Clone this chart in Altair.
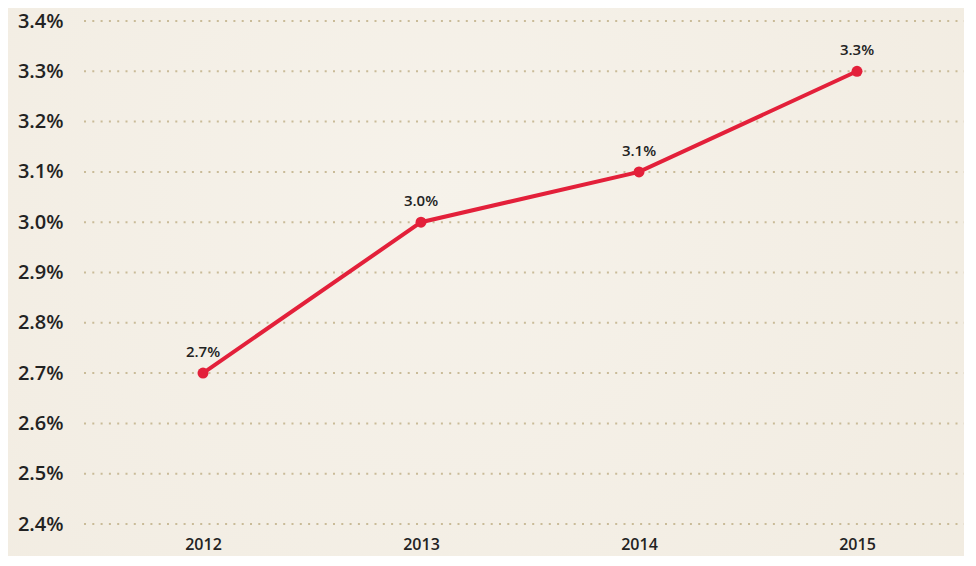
import altair as alt
import pandas as pd

years = ["2012", "2013", "2014", "2015"]
rates = [0.027, 0.030, 0.031, 0.033]
labels = ["2.7%", "3.0%", "3.1%", "3.3%"]
y_ticks = [0.024, 0.025, 0.026, 0.027, 0.028, 0.029, 0.030, 0.031, 0.032, 0.033, 0.034]

df = pd.DataFrame({"year": years, "rate": rates, "label": labels})
grid_df = pd.DataFrame({"rate": y_ticks})

FONT = "Open Sans"
RED = "#e3203a"
W, H = 880, 503

x = alt.X("year:N", scale=alt.Scale(type="point", padding=0, range=[119, 773]), title=None,
          axis=alt.Axis(labelAngle=0, labelFontSize=16, labelFont=FONT, labelFontWeight=600,
                        labelColor="#222222", labelPadding=12, domain=False, ticks=False, grid=False,
                        zindex=1))
yscale = alt.Scale(domain=[0.024, 0.034], nice=False, zero=False)
y = alt.Y("rate:Q", scale=yscale, title=None,
          axis=alt.Axis(values=y_ticks, format=".1%", labelFontSize=20, labelFont=FONT,
                        labelFontWeight=600, labelColor="#222222", labelPadding=21,
                        domain=False, ticks=False, grid=False, zindex=1))

bg = alt.Chart(df).mark_rect(
    color=alt.RadialGradient(
        gradient="radial", x1=0.45, y1=0.4, r1=0, x2=0.45, y2=0.4, r2=0.75,
        stops=[alt.GradientStop(offset=0, color="#f6f2ea"),
               alt.GradientStop(offset=1, color="#f1ebe0")]
    )
).encode(x=alt.value(-90), x2=alt.value(W + 10), y=alt.value(-20), y2=alt.value(H + 50))

grid = alt.Chart(grid_df).mark_rule(color="#c9bb98", strokeWidth=2, strokeDash=[2, 6.3]).encode(
    y=y, x=alt.value(0), x2=alt.value(W))

line = alt.Chart(df).mark_line(color=RED, strokeWidth=4).encode(x=x, y=y)
pts = alt.Chart(df).mark_point(filled=True, color=RED, size=120, opacity=1).encode(x=x, y=y)
txt = alt.Chart(df).mark_text(dy=-21, fontSize=15, font=FONT, fontWeight=600, color="#222222").encode(
    x=x, y=y, text="label:N")

chart = alt.layer(bg, grid, line, pts, txt).properties(
    width=W, height=H,
    autosize=alt.AutoSizeParams(type="none"),
    padding={"left": 76, "top": 13, "right": 0, "bottom": 32},
    background="#f3eee5",
).configure_view(stroke=None)

chart.save("out.html", embed_options={"renderer": "svg", "actions": False})
